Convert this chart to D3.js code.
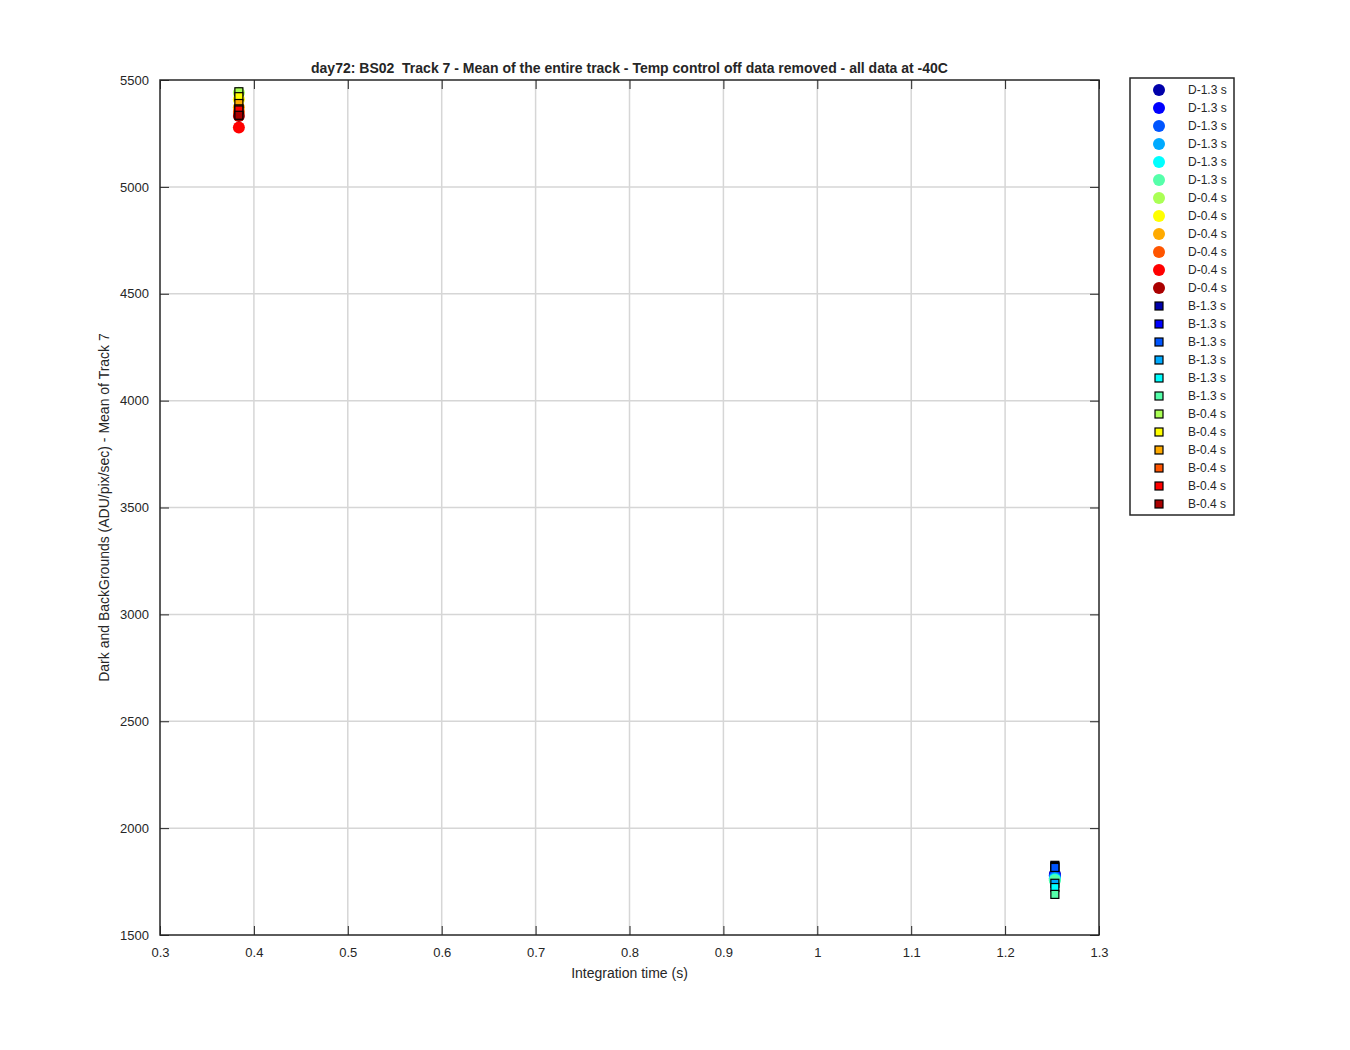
<!DOCTYPE html>
<html>
<head>
<meta charset="utf-8">
<script src="https://cdn.jsdelivr.net/npm/d3@7"></script>
<style>
  body { margin: 0; background: #fff; }
  text { font-family: "Liberation Sans", Arial, sans-serif; fill: #262626; }
</style>
</head>
<body>
<div id="chart"></div>
<script>
// series labels, in legend order
const darkLabels = ["D-1.3 s", "D-1.3 s", "D-1.3 s", "D-1.3 s", "D-1.3 s", "D-1.3 s",
                    "D-0.4 s", "D-0.4 s", "D-0.4 s", "D-0.4 s", "D-0.4 s", "D-0.4 s"];
const bgLabels = ["B-1.3 s", "B-1.3 s", "B-1.3 s", "B-1.3 s", "B-1.3 s", "B-1.3 s",
                  "B-0.4 s", "B-0.4 s", "B-0.4 s", "B-0.4 s", "B-0.4 s", "B-0.4 s"];
const seriesColors = ["#0000aa", "#0000ff", "#0055ff", "#00aaff", "#00ffff", "#55ffaa",
                      "#aaff55", "#ffff00", "#ffaa00", "#ff5500", "#ff0000", "#aa0000"];
// integration times (s)
const darkX = [1.253, 1.253, 1.253, 1.253, 1.253, 1.253, 0.384, 0.384, 0.384, 0.384, 0.384, 0.384];
const bgX = [1.253, 1.253, 1.253, 1.253, 1.253, 1.253, 0.384, 0.384, 0.384, 0.384, 0.384, 0.384];
// mean of track 7 (ADU/pix/sec)
const darkY = [1785, 1780, 1772, 1766, 1760, 1756, 5440, 5410, 5372, 5350, 5278, 5332];
const bgY = [1826, 1820, 1816, 1742, 1722, 1690, 5445, 5422, 5390, 5365, 5360, 5335];

const xTicks = [0.3, 0.4, 0.5, 0.6, 0.7, 0.8, 0.9, 1, 1.1, 1.2, 1.3];
const yTicks = [1500, 2000, 2500, 3000, 3500, 4000, 4500, 5000, 5500];

const width = 1350, height = 1050;
const plotLeft = 160, plotRight = 1099, plotTop = 80, plotBottom = 935;

const svg = d3.select("#chart").append("svg")
    .attr("width", width)
    .attr("height", height);

const x = d3.scaleLinear().domain([0.3, 1.3]).range([plotLeft, plotRight]);
const y = d3.scaleLinear().domain([1500, 5500]).range([plotBottom, plotTop]);

// grid
svg.append("g").selectAll("line")
    .data(xTicks.slice(1, -1))
    .enter().append("line")
    .attr("x1", d => x(d)).attr("x2", d => x(d))
    .attr("y1", plotTop).attr("y2", plotBottom)
    .attr("stroke", "#d6d6d6").attr("stroke-width", 1.5);
svg.append("g").selectAll("line")
    .data(yTicks.slice(1, -1))
    .enter().append("line")
    .attr("x1", plotLeft).attr("x2", plotRight)
    .attr("y1", d => y(d)).attr("y2", d => y(d))
    .attr("stroke", "#d6d6d6").attr("stroke-width", 1.5);

// axes with inward ticks on all four sides
const tickLen = 9;
const fmtX = d => String(+d.toFixed(1));
svg.append("g").attr("transform", `translate(0,${plotBottom})`)
    .call(d3.axisBottom(x).tickValues(xTicks).tickSizeInner(-tickLen).tickSizeOuter(0).tickPadding(13).tickFormat(fmtX));
svg.append("g").attr("transform", `translate(0,${plotTop})`)
    .call(d3.axisTop(x).tickValues(xTicks).tickSizeInner(-tickLen).tickSizeOuter(0).tickFormat(""));
svg.append("g").attr("transform", `translate(${plotLeft},0)`)
    .call(d3.axisLeft(y).tickValues(yTicks).tickSizeInner(-tickLen).tickSizeOuter(0).tickPadding(11).tickFormat(d3.format("d")));
svg.append("g").attr("transform", `translate(${plotRight},0)`)
    .call(d3.axisRight(y).tickValues(yTicks).tickSizeInner(-tickLen).tickSizeOuter(0).tickFormat(""));

svg.selectAll(".domain").remove();
svg.selectAll(".tick line").attr("stroke", "#262626");
svg.selectAll(".tick text").attr("font-size", 13).attr("fill", "#262626")
    .style("font-family", "'Liberation Sans', Arial, sans-serif");

svg.append("rect")
    .attr("x", plotLeft).attr("y", plotTop)
    .attr("width", plotRight - plotLeft).attr("height", plotBottom - plotTop)
    .attr("fill", "none").attr("stroke", "#262626").attr("stroke-width", 1.5);

// data: dark circles first, then background squares
const darkData = darkY.map((v, i) => ({ x: darkX[i], y: v, c: seriesColors[i] }));
const bgData = bgY.map((v, i) => ({ x: bgX[i], y: v, c: seriesColors[i] }));

svg.append("g").selectAll("circle")
    .data(darkData)
    .enter().append("circle")
    .attr("cx", d => x(d.x)).attr("cy", d => y(d.y))
    .attr("r", 6)
    .attr("fill", d => d.c);

svg.append("g").selectAll("rect")
    .data(bgData)
    .enter().append("rect")
    .attr("x", d => x(d.x) - 4).attr("y", d => y(d.y) - 4)
    .attr("width", 8).attr("height", 8)
    .attr("fill", d => d.c)
    .attr("stroke", "#000").attr("stroke-width", 1.2);

// labels
svg.append("text")
    .attr("x", (plotLeft + plotRight) / 2).attr("y", 73)
    .attr("text-anchor", "middle")
    .attr("font-size", 14).attr("font-weight", "bold")
    .style("white-space", "pre")
    .text("day72: BS02  Track 7 - Mean of the entire track - Temp control off data removed - all data at -40C");

svg.append("text")
    .attr("x", (plotLeft + plotRight) / 2).attr("y", 978)
    .attr("text-anchor", "middle")
    .attr("font-size", 14)
    .text("Integration time (s)");

svg.append("text")
    .attr("transform", `translate(109,${(plotTop + plotBottom) / 2}) rotate(-90)`)
    .attr("text-anchor", "middle")
    .attr("font-size", 14)
    .text("Dark and BackGrounds (ADU/pix/sec) - Mean of Track 7");

// legend
const legX = 1130, legY = 78, legW = 104, legH = 437, step = 18;
const legend = svg.append("g");
legend.append("rect")
    .attr("x", legX).attr("y", legY).attr("width", legW).attr("height", legH)
    .attr("fill", "#fff").attr("stroke", "#262626").attr("stroke-width", 1.5);

const legItems = darkLabels.map((l, i) => ({ label: l, c: seriesColors[i], shape: "circle" }))
    .concat(bgLabels.map((l, i) => ({ label: l, c: seriesColors[i], shape: "square" })));

legItems.forEach((d, i) => {
    const cy = legY + 12 + i * step;
    if (d.shape === "circle") {
        legend.append("circle").attr("cx", 1159).attr("cy", cy).attr("r", 6).attr("fill", d.c);
    } else {
        legend.append("rect").attr("x", 1155).attr("y", cy - 4).attr("width", 8).attr("height", 8)
            .attr("fill", d.c).attr("stroke", "#000").attr("stroke-width", 1.2);
    }
    legend.append("text").attr("x", 1188).attr("y", cy + 4)
        .attr("font-size", 12).text(d.label);
});
</script>
</body>
</html>
